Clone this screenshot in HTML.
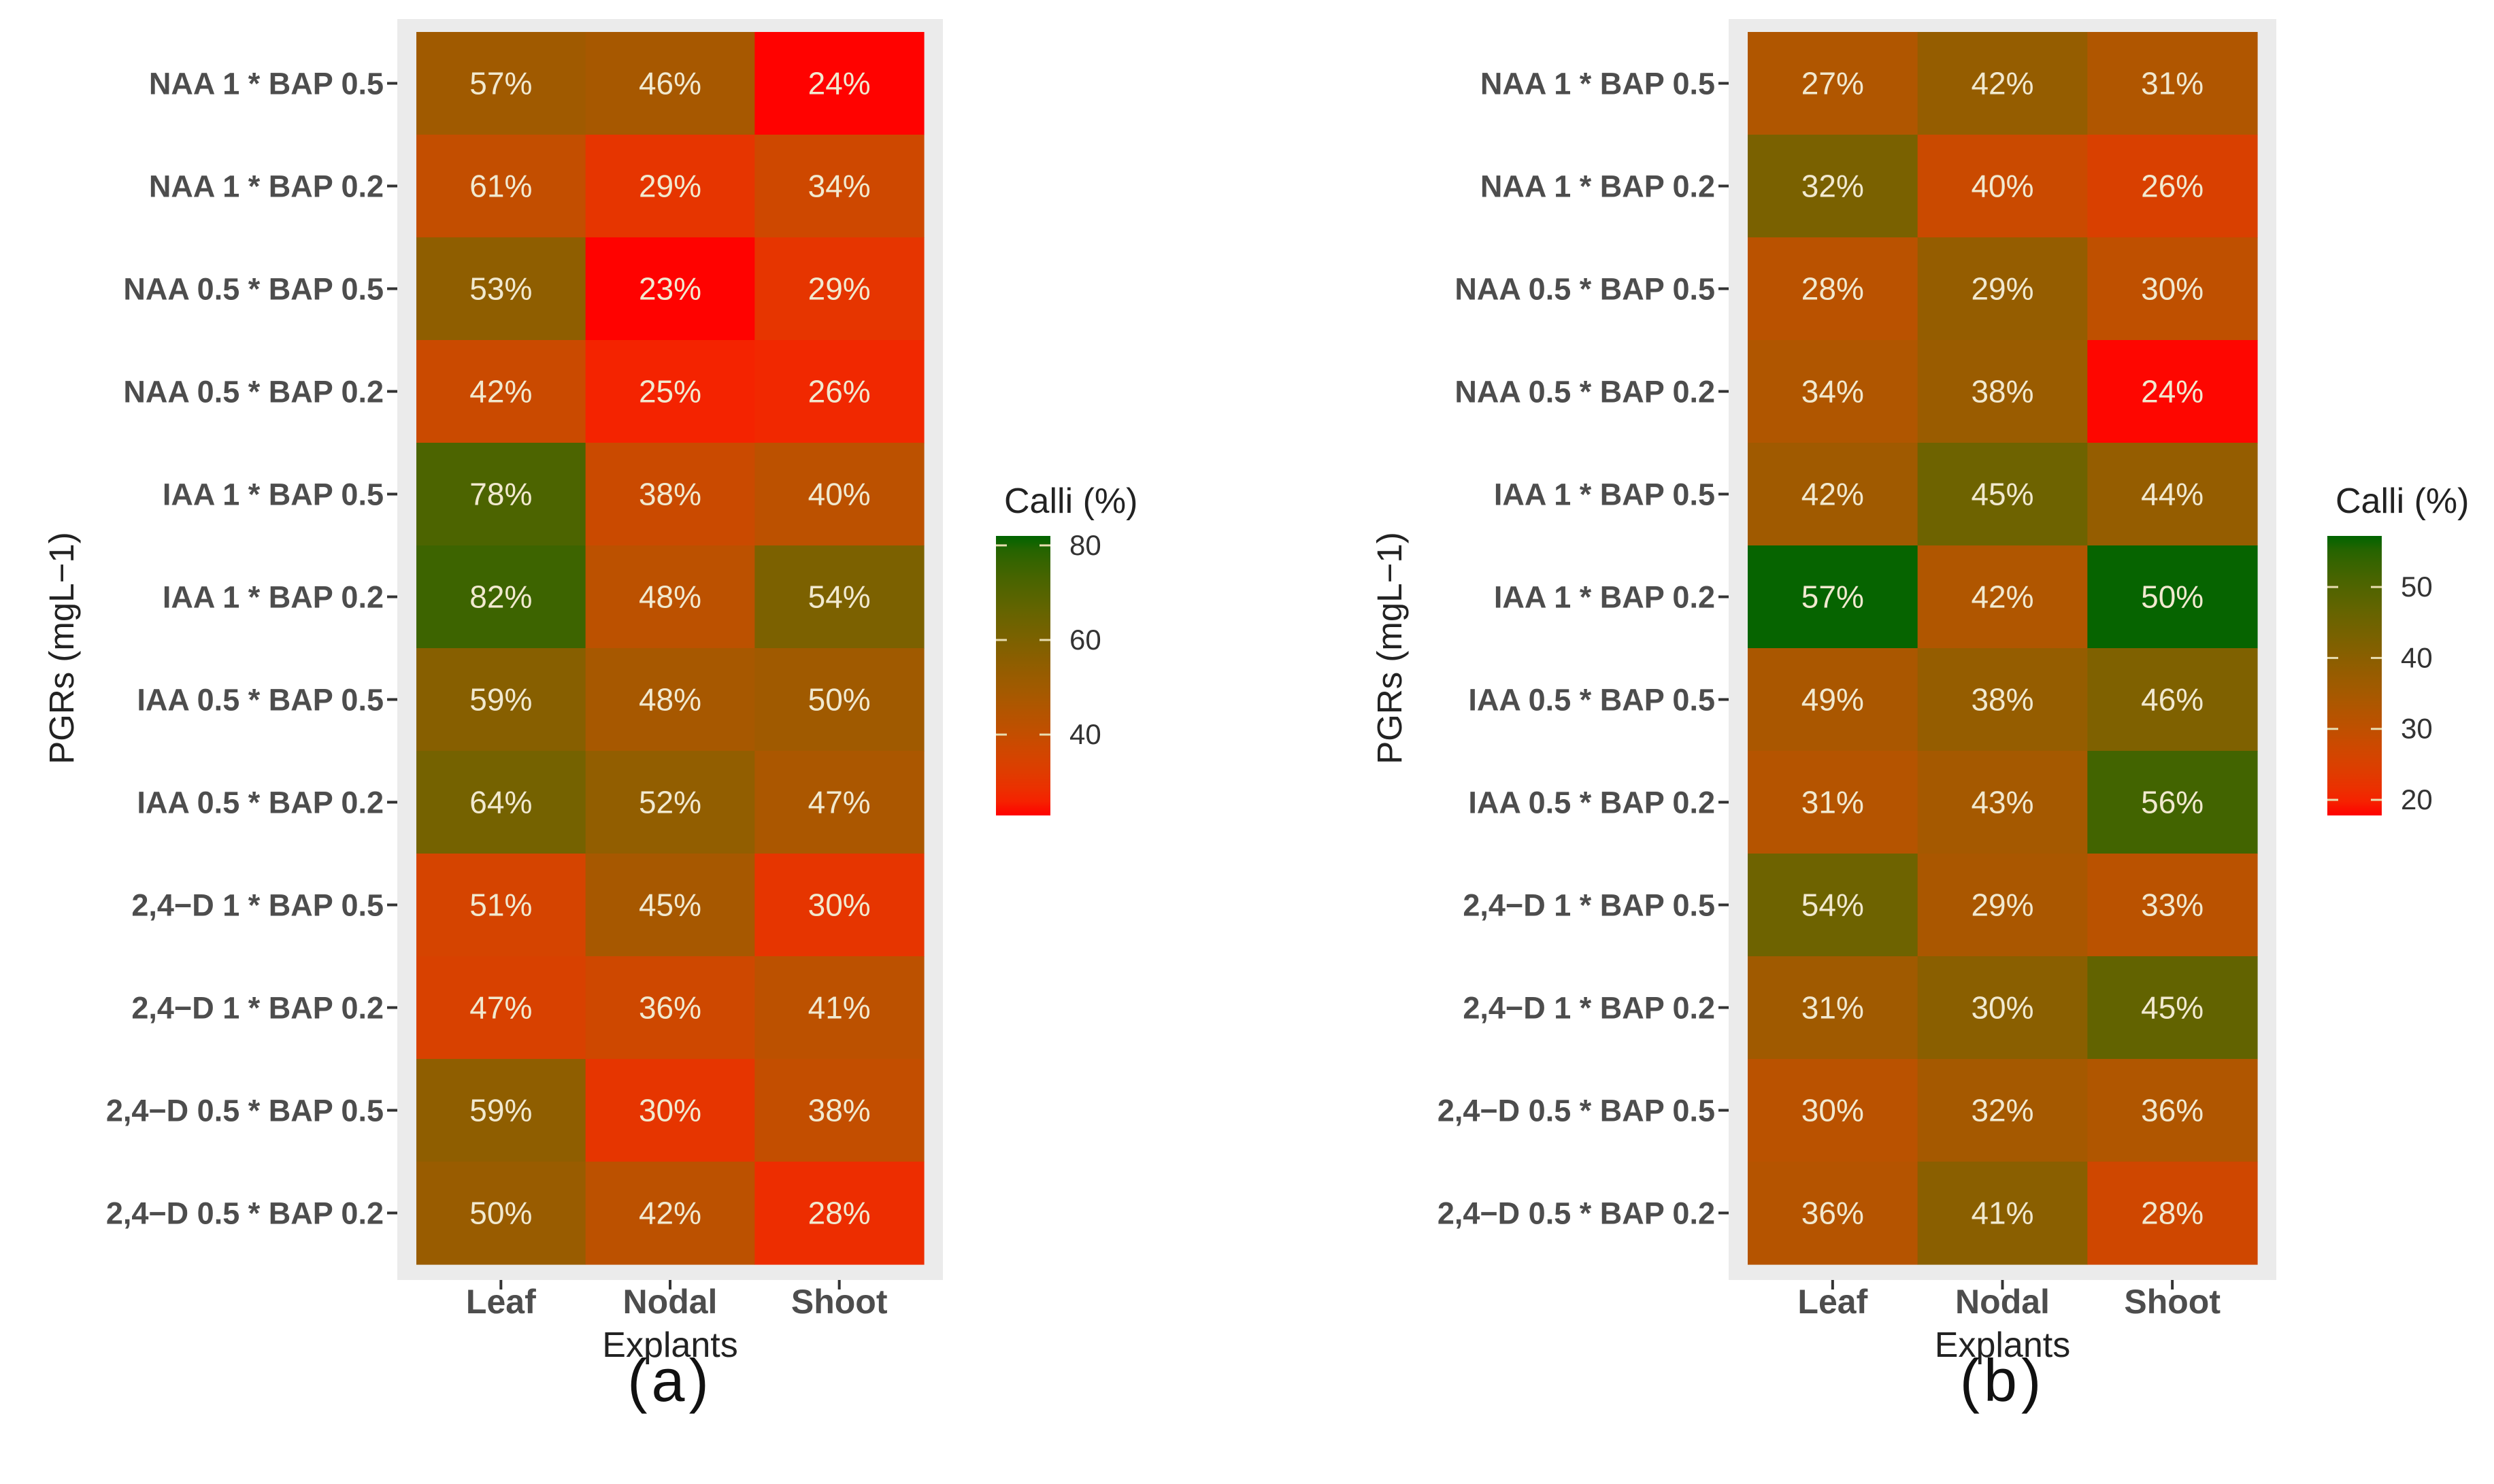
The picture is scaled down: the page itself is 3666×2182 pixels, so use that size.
<!DOCTYPE html>
<html><head><meta charset="utf-8">
<style>
html,body{margin:0;padding:0;background:#fff;}
svg{display:block;}
text{font-family:"Liberation Sans",Arial,sans-serif;}
</style></head>
<body>
<svg id="chart" width="3666" height="2182" viewBox="0 0 3666 2182" xmlns="http://www.w3.org/2000/svg"></svg>
<script>
const rowLabels = ["NAA 1 * BAP 0.5","NAA 1 * BAP 0.2","NAA 0.5 * BAP 0.5","NAA 0.5 * BAP 0.2","IAA 1 * BAP 0.5","IAA 1 * BAP 0.2","IAA 0.5 * BAP 0.5","IAA 0.5 * BAP 0.2","2,4\u2212D 1 * BAP 0.5","2,4\u2212D 1 * BAP 0.2","2,4\u2212D 0.5 * BAP 0.5","2,4\u2212D 0.5 * BAP 0.2"];
const colLabels = ["Leaf","Nodal","Shoot"];
// printed percentages
const aLeaf  = [57,61,53,42,78,82,59,64,51,47,59,50];
const aNodal = [46,29,23,25,38,48,48,52,45,36,30,42];
const aShoot = [24,34,29,26,40,54,50,47,30,41,38,28];
const bLeaf  = [27,32,28,34,42,57,49,31,54,31,30,36];
const bNodal = [42,40,29,38,45,42,38,43,29,30,32,41];
const bShoot = [31,26,30,24,44,50,46,56,33,45,36,28];
const aLeafFill  = [50,40,55,38,72,75,57,62,35,34,55,52];
const aNodalFill = [48,30,23,26,38,42,48,54,48,37,30,42];
const aShootFill = [23,37,30,27,42,60,50,47,30,42,40,28];
const bLeafFill  = [33,43,31,33,36,57,34,32,45,36,31,32];
const bNodalFill = [38,28,38,37,45,33,38,35,34,40,35,40];
const bShootFill = [33,25,30,18,38,57,42,52,31,47,33,27];
const aTicks = [40,60,80];
const bTicks = [20,30,40,50];
const aLegendRange = [22.9,82];
const bLegendRange = [17.8,57.2];

const NS="http://www.w3.org/2000/svg";
const svg=document.getElementById('chart');
function el(tag,attrs,parent){const e=document.createElementNS(NS,tag);for(const k in attrs)e.setAttribute(k,attrs[k]);(parent||svg).appendChild(e);return e;}

function s2l(c){c/=255;return c<=0.04045?c/12.92:Math.pow((c+0.055)/1.055,2.4);}
function l2s(c){c=c<=0.0031308?12.92*c:1.055*Math.pow(c,1/2.4)-0.055;return Math.max(0,Math.min(255,Math.round(c*255)));}
function toLab(r,g,b){r=s2l(r);g=s2l(g);b=s2l(b);
 let x=(r*0.4124+g*0.3576+b*0.1805)/0.95047,y=(r*0.2126+g*0.7152+b*0.0722),z=(r*0.0193+g*0.1192+b*0.9505)/1.08883;
 const f=t=>t>0.008856?Math.cbrt(t):7.787*t+16/116;x=f(x);y=f(y);z=f(z);return [116*y-16,500*(x-y),200*(y-z)];}
function fromLab(L,a,b){let y=(L+16)/116,x=a/500+y,z=y-b/200;
 const fi=t=>t*t*t>0.008856?t*t*t:(t-16/116)/7.787;x=fi(x)*0.95047;y=fi(y);z=fi(z)*1.08883;
 const r=x*3.2406+y*-1.5372+z*-0.4986,g=x*-0.9689+y*1.8758+z*0.0415,bb=x*0.0557+y*-0.2040+z*1.0570;
 return `rgb(${l2s(r)},${l2s(g)},${l2s(bb)})`;}
const LOW=toLab(255,0,0),HIGH=toLab(0,100,0);
function col(t){t=Math.max(0,Math.min(1,t));return fromLab(LOW[0]+(HIGH[0]-LOW[0])*t,LOW[1]+(HIGH[1]-LOW[1])*t,LOW[2]+(HIGH[2]-LOW[2])*t);}

function panel(p){
 const g=el('g',{});
 
 
 const cols=[p.c1,p.c2,p.c3];
 const fills=[p.f1,p.f2,p.f3];
 const [lo,hi]=p.lr;
 const n=rowLabels.length;
 const cw=(p.x1-p.x0)/3, rh=(p.y1-p.y0)/n;
 const xS=i=>p.x0+i*cw, yS=j=>p.y0+j*rh;
 const bg=el('rect',{x:p.x0-28,y:p.y0-19,width:(p.x1-p.x0)+56,height:(p.y1-p.y0)+42,fill:'#EBEBEB'},g);
 
 
 for(let i=0;i<3;i++){
  for(let j=0;j<n;j++){
   const v=cols[i][j];
   const r=el('rect',{x:xS(i),y:yS(j),width:cw+0.6,height:rh+0.6,fill:col((fills[i][j]-lo)/(hi-lo))},g);
   
   
   const t=el('text',{x:xS(i)+cw/2,y:yS(j)+rh/2+16,'text-anchor':'middle','font-size':46,fill:'#F1E9CF'},g);
   t.textContent=v+'%';
   
   
  }
 }
 for(let j=0;j<n;j++){
  const cy=yS(j)+rh/2;
  el('line',{x1:p.x0-28-15,x2:p.x0-28,y1:cy,y2:cy,stroke:'#333',"stroke-width":4},g);
  const t=el('text',{x:p.x0-28-20,y:cy+16,'text-anchor':'end','font-size':45,'font-weight':'bold',fill:'#4D4D4D'},g);
  t.textContent=rowLabels[j];
  
  
 }
 for(let i=0;i<3;i++){
  const cx=xS(i)+cw/2;
  el('line',{x1:cx,x2:cx,y1:p.y1+23,y2:p.y1+37,stroke:'#333',"stroke-width":4},g);
  const t=el('text',{x:cx,y:p.y1+72,'text-anchor':'middle','font-size':50,'font-weight':'bold',fill:'#4D4D4D'},g);
  t.textContent=colLabels[i];
  
  
 }
 const xt=el('text',{x:(p.x0+p.x1)/2,y:p.y1+136,'text-anchor':'middle','font-size':52,fill:'#222'},g);
 xt.textContent='Explants';
 
 
 const yt=el('text',{x:0,y:0,'text-anchor':'middle','font-size':51,fill:'#222',transform:`translate(${p.ytx},${(p.y0+p.y1)/2}) rotate(-90)`},g);
 yt.textContent='PGRs (mgL\u22121)';
 
 
 const cap=el('text',{x:(p.x0+p.x1)/2,y:2060,'text-anchor':'middle','font-size':88,'letter-spacing':6,fill:'#111'},g);
 cap.textContent=p.caption;
 
 
 const lg=el('g',{},g);
 
 
 const gid='grad-'+p.caption.replace(/\W/g,'');
 const defs=el('defs',{},lg);
 const gr=el('linearGradient',{id:gid,x1:0,y1:1,x2:0,y2:0},defs);
 for(let k=0;k<=20;k++){el('stop',{offset:k/20,'stop-color':col(k/20)},gr);}
 el('rect',{x:p.lx,y:p.ly0,width:80,height:p.ly1-p.ly0,fill:`url(#${gid})`},lg);
 const lt=el('text',{x:p.lx+12,y:p.ly0-34,'font-size':52,fill:'#222'},lg);
 lt.textContent='Calli (%)';
 
 
 const yL=v=>p.ly1-(v-lo)/(hi-lo)*(p.ly1-p.ly0);
 p.ticks.forEach(v=>{
  const y=yL(v);
  el('line',{x1:p.lx,x2:p.lx+16,y1:y,y2:y,stroke:'#E8DDB0','stroke-width':3},lg);
  el('line',{x1:p.lx+64,x2:p.lx+80,y1:y,y2:y,stroke:'#E8DDB0','stroke-width':3},lg);
  const t=el('text',{x:p.lx+108,y:y+14,'font-size':42,fill:'#333'},lg);
  t.textContent=v;
  
  
 });
}
panel({name:'panel-a',x0:612,x1:1358,y0:47,y1:1859,c1:aLeaf,c2:aNodal,c3:aShoot,f1:aLeafFill,f2:aNodalFill,f3:aShootFill,ytx:108,caption:'(a)',lx:1464,ly0:788,ly1:1199,lr:aLegendRange,ticks:aTicks});
panel({name:'panel-b',x0:2569,x1:3318,y0:47,y1:1859,c1:bLeaf,c2:bNodal,c3:bShoot,f1:bLeafFill,f2:bNodalFill,f3:bShootFill,ytx:2060,caption:'(b)',lx:3421,ly0:788,ly1:1199,lr:bLegendRange,ticks:bTicks});
</script>
</body></html>
